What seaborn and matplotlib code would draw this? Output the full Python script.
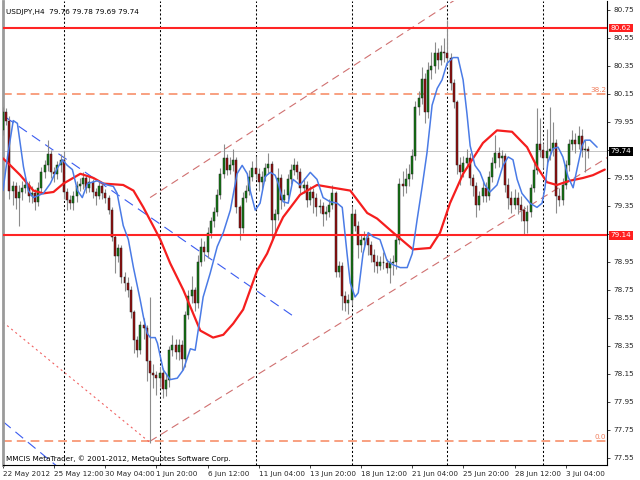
import matplotlib
matplotlib.use('Agg')
import matplotlib.pyplot as plt
import seaborn as sns
import pandas as pd
import numpy as np

# USDJPY H4 candles, one value per bar (open = previous close)
first_open = 79.89
closes = [80.02, 79.96, 79.46, 79.49, 79.41, 79.45, 79.48, 79.50, 79.42, 79.44,
          79.38, 79.48, 79.59, 79.64, 79.72, 79.59, 79.58, 79.64, 79.68, 79.45,
          79.39, 79.37, 79.42, 79.49, 79.51, 79.55, 79.48, 79.52, 79.45, 79.42,
          79.49, 79.44, 79.41, 79.32, 79.13, 78.99, 79.05, 78.84, 78.80, 78.75,
          78.59, 78.39, 78.32, 78.50, 78.48, 78.24, 78.16, 78.14, 78.12, 78.16,
          78.04, 78.11, 78.32, 78.36, 78.31, 78.36, 78.26, 78.57, 78.71, 78.75,
          78.66, 78.95, 79.06, 79.02, 79.16, 79.24, 79.31, 79.43, 79.58, 79.69,
          79.61, 79.64, 79.68, 79.34, 79.19, 79.41, 79.46, 79.56, 79.62, 79.58,
          79.52, 79.56, 79.62, 79.65, 79.25, 79.29, 79.55, 79.39, 79.43, 79.54,
          79.61, 79.64, 79.59, 79.48, 79.50, 79.39, 79.45, 79.41, 79.34, 79.35,
          79.29, 79.31, 79.36, 79.44, 78.88, 78.92, 78.71, 78.66, 78.68, 79.29,
          79.21, 79.07, 79.11, 79.12, 79.07, 79.00, 78.95, 78.92, 78.95, 78.94,
          78.91, 78.94, 78.95, 79.11, 79.51, 79.49, 79.54, 79.58, 79.71, 80.06,
          80.12, 80.26, 80.02, 80.32, 80.35, 80.44, 80.39, 80.45, 80.44, 80.41,
          80.23, 80.09, 79.64, 79.59, 79.66, 79.69, 79.55, 79.49, 79.36, 79.42,
          79.48, 79.42, 79.56, 79.66, 79.73, 79.69, 79.71, 79.50, 79.41, 79.36,
          79.41, 79.36, 79.32, 79.24, 79.31, 79.48, 79.61, 79.79, 79.75, 79.69,
          79.74, 79.76, 79.80, 79.42, 79.39, 79.50, 79.64, 79.79, 79.82, 79.79,
          79.85, 79.75, 79.76, 79.74]
highs = [80.06, 80.05, 79.99, 79.53, 79.52, 79.50, 79.53, 79.56, 79.53, 79.49,
         79.47, 79.52, 79.63, 79.68, 79.82, 79.75, 79.63, 79.67, 79.72, 79.74,
         79.48, 79.43, 79.46, 79.53, 79.55, 79.59, 79.57, 79.56, 79.54, 79.48,
         79.53, 79.52, 79.47, 79.43, 79.34, 79.15, 79.08, 79.07, 78.88, 78.84,
         78.78, 78.61, 78.42, 78.53, 78.55, 78.50, 78.70, 78.22, 78.17, 78.20,
         78.19, 78.15, 78.35, 78.43, 78.40, 78.40, 78.39, 78.60, 78.75, 78.85,
         78.77, 79.00, 79.12, 79.10, 79.20, 79.27, 79.34, 79.47, 79.62, 79.79,
         79.72, 79.70, 79.76, 79.70, 79.36, 79.45, 79.50, 79.61, 79.67, 79.71,
         79.62, 79.60, 79.66, 79.73, 79.67, 79.33, 79.62, 79.58, 79.47, 79.58,
         79.65, 79.69, 79.67, 79.62, 79.55, 79.53, 79.49, 79.48, 79.44, 79.40,
         79.38, 79.35, 79.40, 79.50, 79.46, 78.96, 78.95, 78.74, 78.72, 79.35,
         79.33, 79.24, 79.15, 79.17, 79.15, 79.10, 79.04, 79.00, 78.99, 79.02,
         78.97, 78.98, 79.00, 79.14, 79.55, 79.60, 79.62, 79.65, 79.76, 80.10,
         80.17, 80.34, 80.30, 80.38, 80.45, 80.52, 80.48, 80.50, 80.55, 80.68,
         80.44, 80.26, 80.11, 79.70, 79.71, 79.76, 79.73, 79.58, 79.52, 79.46,
         79.53, 79.52, 79.60, 79.70, 79.86, 79.77, 79.75, 79.73, 79.55, 79.46,
         79.47, 79.45, 79.42, 79.35, 79.36, 79.51, 79.66, 80.05, 79.98, 79.80,
         79.90, 80.06, 79.95, 79.83, 79.48, 79.55, 79.68, 79.83, 79.89, 79.87,
         79.92, 79.90, 79.82, 79.78]
lows = [79.86, 79.93, 79.40, 79.36, 79.33, 79.21, 79.39, 79.44, 79.38, 79.37,
        79.32, 79.35, 79.45, 79.55, 79.60, 79.55, 79.52, 79.54, 79.59, 79.40,
        79.32, 79.33, 79.32, 79.38, 79.46, 79.47, 79.44, 79.45, 79.41, 79.36,
        79.40, 79.40, 79.37, 79.29, 79.10, 78.87, 78.95, 78.80, 78.74, 78.70,
        78.55, 78.30, 78.27, 78.29, 78.40, 78.10, 77.66, 78.05, 78.00, 78.06,
        77.98, 77.99, 78.06, 78.28, 78.26, 78.25, 78.18, 78.20, 78.54, 78.66,
        78.60, 78.62, 78.92, 78.96, 78.98, 79.12, 79.20, 79.28, 79.40, 79.55,
        79.57, 79.58, 79.60, 79.30, 79.11, 79.16, 79.38, 79.43, 79.53, 79.54,
        79.46, 79.47, 79.53, 79.58, 79.11, 79.16, 79.25, 79.33, 79.35, 79.40,
        79.51, 79.57, 79.54, 79.44, 79.44, 79.34, 79.36, 79.30, 79.28, 79.30,
        79.21, 79.25, 79.27, 79.33, 78.84, 78.84, 78.61, 78.60, 78.58, 78.64,
        79.17, 78.98, 79.02, 79.04, 79.00, 78.95, 78.88, 78.87, 78.89, 78.90,
        78.87, 78.80, 78.86, 78.90, 79.08, 79.42, 79.44, 79.49, 79.54, 79.68,
        80.00, 80.08, 79.94, 79.98, 80.26, 80.30, 80.33, 80.36, 80.38, 80.36,
        80.18, 80.05, 79.58, 79.50, 79.56, 79.62, 79.50, 79.42, 79.27, 79.32,
        79.38, 79.38, 79.39, 79.52, 79.62, 79.63, 79.63, 79.45, 79.33, 79.30,
        79.33, 79.29, 79.24, 79.14, 79.16, 79.27, 79.45, 79.58, 79.70, 79.62,
        79.64, 79.68, 79.71, 79.30, 79.35, 79.36, 79.47, 79.60, 79.75, 79.73,
        79.76, 79.70, 79.59, 79.69]

# slow (red) and fast (blue) moving averages
red_ma_bar = [0, 2.3, 5.4, 9.5, 12.6, 15.8, 18.9, 24.2, 28.3, 31.4,
              37.6, 40.8, 43.9, 47.6, 49.2, 52.3, 56.4, 61.7, 65.7, 68.9,
              72.0, 75.1, 77.3, 79.5, 82.6, 85.7, 87.6, 92.9, 98.2, 103.3,
              108.6, 113.9, 117.0, 122.0, 128.2, 133.6, 136.7, 139.8, 143.9, 150.1,
              154.5, 159.2, 163.9, 167.0, 170.1, 173.2, 177.2, 181.4, 184.5, 188.2]
red_ma = [79.69, 79.64, 79.57, 79.46, 79.44, 79.45, 79.51, 79.58, 79.55, 79.51,
          79.50, 79.46, 79.34, 79.18, 79.11, 78.94, 78.75, 78.46, 78.41, 78.43,
          78.51, 78.61, 78.75, 78.89, 79.01, 79.18, 79.27, 79.43, 79.50, 79.48,
          79.46, 79.30, 79.26, 79.16, 79.04, 79.05, 79.16, 79.37, 79.58, 79.80,
          79.89, 79.88, 79.77, 79.63, 79.52, 79.50, 79.53, 79.55, 79.57, 79.61]
blue_ma_bar = [0, 1.4, 3.2, 4.5, 6.4, 7.9, 9.5, 12.6, 14.8, 17.0,
               18.6, 20.1, 21.7, 23.3, 24.8, 26.4, 29.5, 32.6, 34.5, 35.7,
               37.6, 39.2, 40.8, 42.9, 43.9, 45.1, 46.1, 47.6, 48.3, 50.1,
               52.3, 54.5, 56.4, 58.6, 60.1, 61.7, 62.6, 64.8, 67.0, 68.9,
               71.1, 73.2, 74.8, 76.4, 77.3, 78.9, 80.4, 82.0, 83.6, 85.1,
               86.1, 87.6, 89.2, 90.7, 92.9, 96.1, 98.2, 100.1, 102.3, 104.5,
               106.1, 107.6, 108.6, 110.1, 111.1, 112.6, 114.2, 115.8, 117.9, 120.1,
               122.0, 124.2, 126.4, 128.0, 129.5, 131.1, 132.6, 134.2, 135.8, 137.3,
               138.9, 140.8, 142.3, 143.9, 145.1, 146.1, 147.6, 149.2, 150.7, 152.3,
               154.5, 156.4, 158.0, 159.5, 160.8, 162.3, 164.8, 167.0, 168.6, 169.5,
               170.4, 172.0, 173.6, 175.1, 176.7, 178.3, 179.5, 181.1, 182.0, 183.6,
               185.8]
blue_ma = [79.46, 79.70, 79.96, 79.94, 79.63, 79.46, 79.41, 79.44, 79.51, 79.62,
           79.68, 79.64, 79.61, 79.46, 79.41, 79.51, 79.53, 79.50, 79.49, 79.44,
           79.21, 79.11, 78.91, 78.68, 78.56, 78.44, 78.41, 78.41, 78.37, 78.18,
           78.11, 78.12, 78.18, 78.33, 78.32, 78.56, 78.70, 78.87, 79.06, 79.16,
           79.32, 79.58, 79.64, 79.58, 79.46, 79.32, 79.37, 79.56, 79.59, 79.57,
           79.51, 79.38, 79.37, 79.54, 79.50, 79.59, 79.54, 79.41, 79.38, 79.37,
           79.34, 79.01, 78.80, 78.70, 78.73, 79.01, 79.16, 79.13, 79.11, 78.96,
           78.93, 78.91, 78.91, 79.01, 79.25, 79.49, 79.73, 80.07, 80.19, 80.25,
           80.37, 80.41, 80.41, 80.25, 80.01, 79.78, 79.64, 79.59, 79.50, 79.45,
           79.50, 79.64, 79.70, 79.68, 79.54, 79.44, 79.37, 79.34, 79.37, 79.48,
           79.66, 79.76, 79.77, 79.70, 79.56, 79.48, 79.61, 79.78, 79.82, 79.82,
           79.77]

# drawn objects
resistance = 80.62
support = 79.14
last_price = 79.74
fib_levels = [80.15, 77.67]
fib_names = ['38.2', '0.0']
channel_low_bar = [46, 190]
channel_low = [77.67, 79.71]
channel_high_bar = [46, 150]
channel_high = [79.41, 80.95]
trend_bar = [0.75, 90.75]
trend = [79.985, 78.564]
trend2_bar = [0, 18]
trend2 = [77.81, 77.47]
fib_base_bar = [0, 46]
fib_base = [78.52, 77.66]

week_bars = [19, 49, 79, 109, 139, 169]
time_bars = [0, 16, 32, 48, 64, 80, 96, 112, 128, 144, 160, 176]
time_labels = ['22 May 2012', '25 May 12:00', '30 May 04:00', '1 Jun 20:00',
               '6 Jun 12:00', '11 Jun 04:00', '13 Jun 20:00', '18 Jun 12:00',
               '21 Jun 04:00', '25 Jun 20:00', '28 Jun 12:00', '3 Jul 04:00']
price_ticks = [77.55, 77.75, 77.95, 78.15, 78.35, 78.55, 78.75, 78.95,
               79.15, 79.35, 79.55, 79.75, 79.95, 80.15, 80.35, 80.55, 80.75]

sns.set_style('white')
plt.rcParams['font.family'] = ['DejaVu Sans']
FS = 5.2

df = pd.DataFrame({'close': closes, 'high': highs, 'low': lows})
df['open'] = df['close'].shift(1).fillna(first_open)
df['bar'] = np.arange(len(df))
up = df['close'] >= df['open']

fig = plt.figure(figsize=(6.4, 4.8), dpi=100)
ax = fig.add_axes([3 / 640, 15 / 480, 604 / 640, 464 / 480])

# week separators
for b in week_bars:
    ax.axvline(b, color='black', lw=0.75, ls=(0, (2, 2)), zorder=1)

# levels
ax.axhline(last_price, color='#c4c4c4', lw=0.7, zorder=1)
for lv, nm in zip(fib_levels, fib_names):
    ax.axhline(lv, color='#f8a080', lw=1.4, ls=(0, (4.5, 2.6)), zorder=2)
    ax.text(188.6, lv + 0.01, nm, color='#f08060', fontsize=FS, ha='right', va='bottom')
ax.axhline(resistance, color='#ff2424', lw=1.5, zorder=5)
ax.axhline(support, color='#ff2424', lw=1.5, zorder=5)

# candles
ax.vlines(df['bar'], df['low'], df['high'], color='#8c8c8c', lw=0.8, zorder=3)
body = (df['close'] - df['open']).where((df['close'] - df['open']).abs() > 0.004, 0.005)
ax.bar(df['bar'], body, bottom=df['open'], width=0.62,
       color=np.where(up, '#127a12', '#9a0c0c'), edgecolor='#222222', linewidth=0.35, zorder=4)

# trend lines
ax.plot(channel_low_bar, channel_low, color='#d07070', lw=0.8, ls=(0, (7, 4.5)), zorder=2)
ax.plot(channel_high_bar, channel_high, color='#d07070', lw=0.8, ls=(0, (7, 4.5)), zorder=2)
ax.plot(trend_bar, trend, color='#3a5bf0', lw=0.8, ls=(0, (9, 5.5)), zorder=2)
ax.plot(trend2_bar, trend2, color='#3a5bf0', lw=0.8, ls=(0, (9, 5.5)), zorder=2)
ax.plot(fib_base_bar, fib_base, color='#f06060', lw=0.8, ls=(0, (1.8, 3)), zorder=2)

# moving averages
sns.lineplot(x=red_ma_bar, y=red_ma, ax=ax, color='#f51e1e', lw=1.6, estimator=None, sort=False, zorder=6)
sns.lineplot(x=blue_ma_bar, y=blue_ma, ax=ax, color='#4a7be6', lw=1.1, estimator=None, sort=False, zorder=6)

ax.set_xlim(0.125, 188.9)
ax.set_ylim(77.50, 80.814)

# tick labels hidden behind the price boxes are left blank, as in the terminal
boxed = [last_price, support]
ax.yaxis.tick_right()
ax.set_yticks(price_ticks)
ax.set_yticklabels(['' if any(abs(v - b) < 0.05 for b in boxed) else f'{v:.2f}' for v in price_ticks])
ax.set_xticks(time_bars)
ax.set_xticklabels(time_labels)
for lbl in ax.get_xticklabels():
    lbl.set_ha('left')
ax.tick_params(axis='y', length=2.5, width=0.6, pad=2, labelsize=FS, right=True, left=False)
ax.tick_params(axis='x', length=2.5, width=0.6, pad=1.5, labelsize=FS, bottom=True)
ax.set_xlabel('')
ax.set_ylabel('')

ax.spines['top'].set_visible(False)
ax.spines['left'].set_color('#9a9a9a')
ax.spines['left'].set_linewidth(2)
ax.spines['right'].set_color('black')
ax.spines['right'].set_linewidth(0.8)
ax.spines['bottom'].set_color('black')
ax.spines['bottom'].set_linewidth(0.8)

# price boxes on the right axis
ytr = ax.get_yaxis_transform()
for val, bg in [(resistance, '#ff2020'), (last_price, 'black'), (support, '#ff2020')]:
    ax.text(1.006, val, f'{val:.2f}', transform=ytr, color='white', fontsize=FS,
            ha='left', va='center', clip_on=False, zorder=10,
            bbox=dict(boxstyle='square,pad=0.18', fc=bg, ec='none'))

ax.text(0.005, 0.976, 'USDJPY,H4  79.76 79.78 79.69 79.74', transform=ax.transAxes,
        fontsize=FS, ha='left', va='center', color='black')
ax.text(0.005, 0.013, 'MMCIS MetaTrader, \u00a9 2001-2012, MetaQuotes Software Corp.',
        transform=ax.transAxes, fontsize=FS, ha='left', va='center', color='black')

fig.savefig('out.png', dpi=100)
